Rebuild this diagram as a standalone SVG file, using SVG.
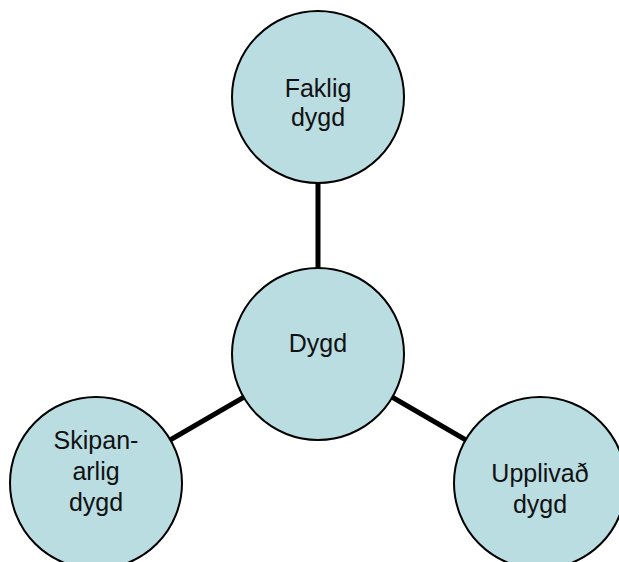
<svg xmlns="http://www.w3.org/2000/svg" width="619" height="562" viewBox="0 0 619 562">
<style>
.node{fill:#B9DDE1;stroke:#000;stroke-width:2}
.lbl{font-family:"Liberation Sans",Arial,sans-serif;font-size:25px;fill:#111;text-anchor:middle}
.conn{stroke:#000;stroke-width:5;fill:none}
</style>
<rect width="619" height="562" fill="#fff"/>
<g id="connectors">
<line class="conn" x1="318" y1="97" x2="318" y2="354"/>
<line class="conn" x1="318" y1="354" x2="96" y2="483"/>
<line class="conn" x1="318" y1="354" x2="540" y2="483"/>
</g>
<g id="faklig">
<circle class="node" cx="318" cy="97" r="86"/>
<text class="lbl" x="318" y="97">Faklig</text>
<text class="lbl" x="318" y="126">dygd</text>
</g>
<g id="dygd">
<circle class="node" cx="318" cy="354" r="86"/>
<text class="lbl" x="318" y="352">Dygd</text>
</g>
<g id="skipanarlig">
<circle class="node" cx="96" cy="483" r="86"/>
<text class="lbl" x="96" y="449">Skipan-</text>
<text class="lbl" x="96" y="480">arlig</text>
<text class="lbl" x="96" y="511">dygd</text>
</g>
<g id="upplivad">
<circle class="node" cx="540" cy="483" r="86"/>
<text class="lbl" x="540" y="482">Upplivað</text>
<text class="lbl" x="540" y="513">dygd</text>
</g>
</svg>
